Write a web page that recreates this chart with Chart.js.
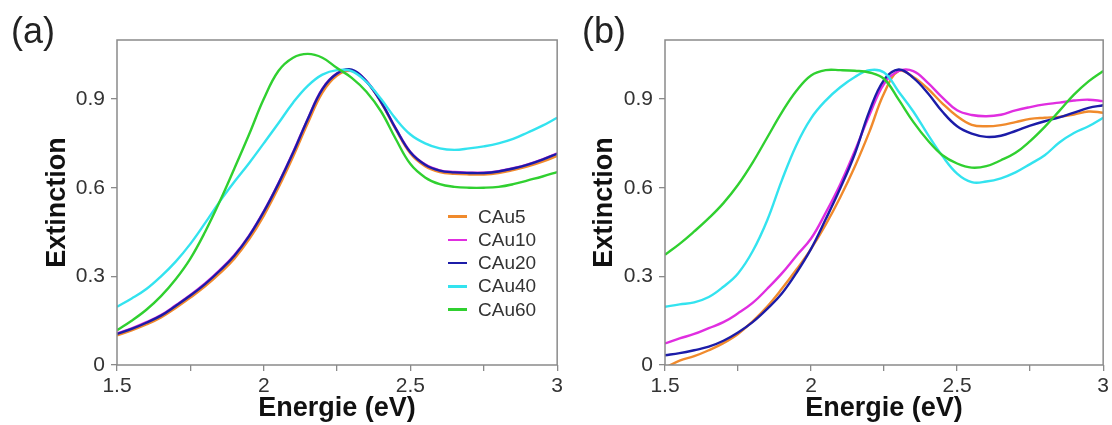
<!DOCTYPE html>
<html>
<head>
<meta charset="utf-8">
<script src="https://cdn.jsdelivr.net/npm/chart.js@4.4.0/dist/chart.umd.min.js"></script>
<style>
    body { margin: 0; background: #fff; font-family: "Liberation Sans", Arial, sans-serif; }
    #wrap { position: relative; width: 1112px; height: 425px; overflow: hidden; }
    .panel { position: absolute; top: 0; height: 425px; }
    #boxA { left: 0; width: 566px; }
    #boxB { left: 566px; width: 546px; }
    .tag { position: absolute; top: 13px; font-size: 36px; line-height: 36px; color: #222; }
    #legend { position: absolute; left: 448px; top: 205px; font-size: 19px; color: #333; }
    .row { height: 23.25px; display: flex; align-items: center; }
    .row i { display: inline-block; width: 19px; height: 2.5px; margin-right: 11px; }
</style>
</head>
<body>
<div id="wrap">
    <div class="panel" id="boxA"><canvas id="chartA"></canvas></div>
    <div class="panel" id="boxB"><canvas id="chartB"></canvas></div>
    <div class="tag" style="left:11px">(a)</div>
    <div class="tag" style="left:582px">(b)</div>
    <div id="legend"></div>
</div>
<script>
// photon energy (eV)
const energy = [1.5, 1.55, 1.6, 1.65, 1.7, 1.75, 1.8, 1.85, 1.9, 1.95, 2.0, 2.05, 2.1, 2.15, 2.2, 2.25,
                2.3, 2.35, 2.4, 2.45, 2.5, 2.55, 2.6, 2.65, 2.7, 2.75, 2.8, 2.85, 2.9, 2.95, 3.0];

const seriesNames = ["CAu5", "CAu10", "CAu20", "CAu40", "CAu60"];
const seriesColors = ["#f08a2c", "#e02ee0", "#1c1ca8", "#33e3ef", "#30d030"];

// panel (a)
const a_CAu5  = [0.1, 0.117, 0.137, 0.161, 0.193, 0.228, 0.266, 0.31, 0.36, 0.425, 0.505, 0.6, 0.705, 0.818, 0.922, 0.98,
                 0.995, 0.96, 0.888, 0.797, 0.716, 0.673, 0.653, 0.647, 0.645, 0.645, 0.65, 0.66, 0.672, 0.688, 0.708];
const a_CAu10 = [0.107, 0.124, 0.145, 0.169, 0.202, 0.237, 0.276, 0.321, 0.372, 0.438, 0.52, 0.615, 0.72, 0.833, 0.935, 0.987,
                 0.998, 0.961, 0.891, 0.801, 0.721, 0.679, 0.659, 0.653, 0.651, 0.651, 0.656, 0.666, 0.679, 0.696, 0.716];
const a_CAu20 = [0.105, 0.122, 0.143, 0.167, 0.2, 0.235, 0.274, 0.319, 0.37, 0.436, 0.518, 0.613, 0.718, 0.832, 0.934, 0.987,
                 1.0, 0.96, 0.89, 0.8, 0.72, 0.678, 0.658, 0.652, 0.65, 0.65, 0.655, 0.665, 0.678, 0.695, 0.715];
const a_CAu40 = [0.197, 0.225, 0.257, 0.3, 0.35, 0.41, 0.48, 0.553, 0.62, 0.683, 0.75, 0.818, 0.888, 0.945, 0.983, 0.998,
                 0.995, 0.958, 0.9, 0.833, 0.78, 0.75, 0.733, 0.728, 0.733, 0.74, 0.75, 0.765, 0.787, 0.81, 0.837];
const a_CAu60 = [0.118, 0.15, 0.187, 0.233, 0.29, 0.36, 0.45, 0.553, 0.665, 0.78, 0.9, 0.995, 1.04, 1.053, 1.04, 1.005,
                 0.972, 0.925, 0.858, 0.765, 0.68, 0.635, 0.612, 0.603, 0.6, 0.6, 0.603, 0.612, 0.625, 0.638, 0.653];

// panel (b)
const b_CAu5  = [-0.01, 0.015, 0.03, 0.05, 0.074, 0.105, 0.148, 0.198, 0.258, 0.323, 0.393, 0.475, 0.568, 0.672, 0.79, 0.92,
                 0.995, 0.975, 0.935, 0.885, 0.842, 0.813, 0.808, 0.812, 0.822, 0.833, 0.837, 0.84, 0.848, 0.858, 0.854];
const b_CAu10 = [0.073, 0.09, 0.105, 0.125, 0.145, 0.175, 0.21, 0.258, 0.31, 0.37, 0.428, 0.515, 0.612, 0.725, 0.846, 0.952,
                 0.995, 0.995, 0.955, 0.905, 0.862, 0.846, 0.842, 0.847, 0.862, 0.873, 0.882, 0.888, 0.895, 0.898, 0.893];
const b_CAu20 = [0.033, 0.04, 0.05, 0.062, 0.082, 0.11, 0.145, 0.19, 0.242, 0.312, 0.393, 0.493, 0.598, 0.715, 0.86, 0.965,
                 1.0, 0.972, 0.92, 0.857, 0.808, 0.783, 0.772, 0.776, 0.792, 0.81, 0.825, 0.838, 0.854, 0.87, 0.879];
const b_CAu40 = [0.197, 0.205, 0.212, 0.23, 0.265, 0.31, 0.385, 0.49, 0.625, 0.745, 0.835, 0.895, 0.94, 0.975, 0.998, 0.99,
                 0.925, 0.858, 0.78, 0.707, 0.648, 0.619, 0.621, 0.632, 0.652, 0.68, 0.71, 0.753, 0.785, 0.808, 0.837];
const b_CAu60 = [0.373, 0.41, 0.452, 0.497, 0.548, 0.61, 0.685, 0.77, 0.855, 0.928, 0.98, 0.998, 0.998, 0.996, 0.99, 0.968,
                 0.898, 0.823, 0.76, 0.71, 0.682, 0.668, 0.673, 0.693, 0.718, 0.758, 0.806, 0.86, 0.915, 0.96, 0.995];

const xTicks = [1.5, 1.75, 2, 2.25, 2.5, 2.75, 3];
const xTickLabels = ["1.5", "", "2", "", "2.5", "", "3"];
const yTicks = [0, 0.3, 0.6, 0.9];
const yTickLabels = ["0", "0.3", "0.6", "0.9"];

const FONT = "'Liberation Sans', Arial, sans-serif";

const framePlugin = {
    id: "frame",
    afterDraw(chart) {
        const { ctx, chartArea: a } = chart;
        ctx.save();
        ctx.strokeStyle = "#8a8a8a";
        ctx.lineWidth = 1.5;
        ctx.strokeRect(a.left, a.top, a.right - a.left, a.bottom - a.top);
        ctx.restore();
    }
};

function makeChart(canvasId, seriesList, yAxisWidth, yTitlePad, rightPad) {
    const datasets = seriesList.map((vals, i) => ({
        label: seriesNames[i],
        data: vals.map((v, k) => ({ x: energy[k], y: v })),
        borderColor: seriesColors[i],
        borderWidth: 2.4,
        pointRadius: 0,
        tension: 0.4,
        order: 5 - i
    }));

    return new Chart(document.getElementById(canvasId), {
        type: "line",
        data: { datasets },
        options: {
            animation: false,
            responsive: true,
            maintainAspectRatio: false,
            devicePixelRatio: 1,
            layout: { padding: { left: 0, top: 40, right: rightPad, bottom: 0 } },
            plugins: { legend: { display: false }, tooltip: { enabled: false } },
            scales: {
                x: {
                    type: "linear",
                    min: 1.5,
                    max: 3,
                    afterBuildTicks: s => { s.ticks = xTicks.map(v => ({ value: v })); },
                    afterFit: s => { s.height = 60; },
                    border: { display: false },
                    grid: { drawOnChartArea: false, drawTicks: true, tickLength: 6, color: "#8a8a8a", lineWidth: 1.3 },
                    ticks: {
                        padding: 3,
                        maxRotation: 0,
                        autoSkip: false,
                        color: "#333",
                        font: { family: FONT, size: 21 },
                        callback: (v, i) => xTickLabels[i]
                    },
                    title: {
                        display: true,
                        text: "Energie (eV)",
                        color: "#111",
                        font: { family: FONT, size: 27, weight: "bold" },
                        padding: { top: 0, bottom: 0 }
                    }
                },
                y: {
                    type: "linear",
                    min: 0,
                    max: 1.1,
                    afterBuildTicks: s => { s.ticks = yTicks.map(v => ({ value: v })); },
                    afterFit: s => { s.width = yAxisWidth; },
                    border: { display: false },
                    grid: { drawOnChartArea: false, drawTicks: true, tickLength: 6, color: "#8a8a8a", lineWidth: 1.3 },
                    ticks: {
                        padding: 6,
                        color: "#333",
                        font: { family: FONT, size: 21 },
                        callback: (v, i) => yTickLabels[i]
                    },
                    title: {
                        display: true,
                        text: "Extinction",
                        color: "#111",
                        font: { family: FONT, size: 27, weight: "bold" },
                        padding: { top: yTitlePad, bottom: 0 }
                    }
                }
            }
        },
        plugins: [framePlugin]
    });
}

makeChart("chartA", [a_CAu5, a_CAu10, a_CAu20, a_CAu40, a_CAu60], 117, 41, 8);
makeChart("chartB", [b_CAu5, b_CAu10, b_CAu20, b_CAu40, b_CAu60], 99, 22, 7);

// legend inside panel (a)
const legend = document.getElementById("legend");
seriesNames.forEach((name, i) => {
    const row = document.createElement("div");
    row.className = "row";
    row.innerHTML = `<i style="background:${seriesColors[i]}"></i><span>${name}</span>`;
    legend.appendChild(row);
});
</script>
</body>
</html>
